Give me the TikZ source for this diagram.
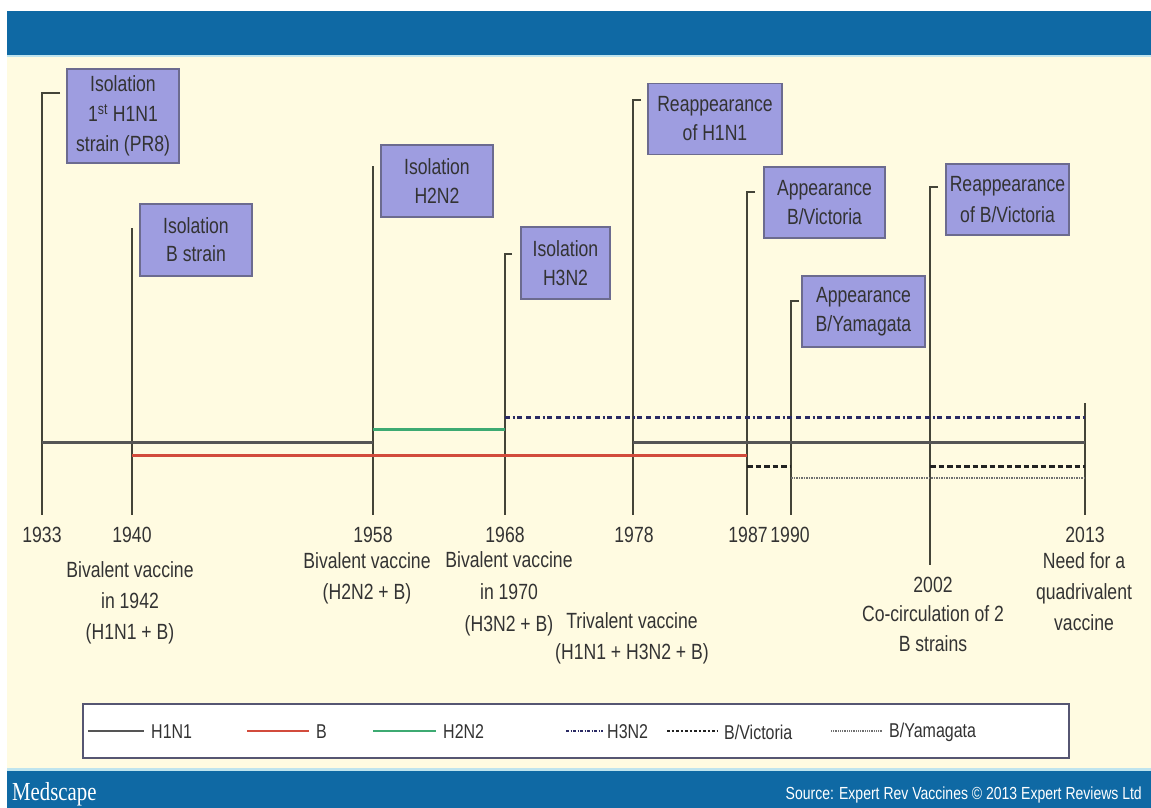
\documentclass[tikz,border=0pt]{standalone}
\usepackage{fontspec}
\setmainfont{Liberation Sans}[FakeStretch=0.8]
\newfontfamily\medfont{Liberation Serif}[FakeStretch=0.8]
\definecolor{bandblue}{HTML}{0F69A4}
\definecolor{cyanline}{HTML}{BFE4EE}
\definecolor{cream}{HTML}{FFFBE1}
\definecolor{boxfill}{HTML}{9E9DE0}
\definecolor{boxline}{HTML}{6C6B8F}
\definecolor{txt}{HTML}{333333}
\definecolor{vcol}{HTML}{444438}
\definecolor{h1col}{HTML}{555555}
\definecolor{bcol}{HTML}{D24B3C}
\definecolor{h2col}{HTML}{3DAA72}
\definecolor{h3col}{HTML}{2B2B64}
\definecolor{vicol}{HTML}{222222}
\definecolor{yamcol}{HTML}{707070}
\begin{document}
\begin{tikzpicture}[x=1pt,y=-1pt,
  evbox/.style={draw=boxline, line width=1.6pt, fill=boxfill, text=txt, align=center,
    font=\fontsize{22}{29}\selectfont, inner sep=0pt},
  lbl/.style={text=txt, align=center, inner sep=0pt, font=\fontsize{22}{31}\selectfont},
  lgtxt/.style={text=txt, anchor=west, inner sep=0pt, font=\fontsize{20}{22}\selectfont},
  vline/.style={draw=vcol, line width=1.4pt},
  h1line/.style={draw=h1col, line width=3pt},
  bline/.style={draw=bcol, line width=3pt},
  h2line/.style={draw=h2col, line width=3pt},
  h3line/.style={draw=h3col, line width=2.5pt, dash pattern=on 5pt off 2.5pt on 2pt off 2.5pt on 5pt off 4pt on 5pt off 4pt},
  viline/.style={draw=vicol, line width=2.6pt, dash pattern=on 5.5pt off 3pt},
  yamline/.style={draw=yamcol, line width=2.3pt, dash pattern=on 1.5pt off 1pt},
]
\useasboundingbox (0,0) rectangle (1151,808);
\fill[white] (0,0) rectangle (1151,808);
% backgrounds
\fill[cream] (7,57) rectangle (1151,769);
\fill[bandblue] (7,11) rectangle (1151,55);
\fill[cyanline] (7,55) rectangle (1151,57.5);
\fill[cyanline] (7,768) rectangle (1151,771);
\fill[bandblue] (7,771) rectangle (1151,808);
\node[anchor=west, text=white, inner sep=0pt, font=\medfont\fontsize{26}{27}\selectfont] (med) at (12,794) {Medscape};
\node[anchor=east, text=white, inner sep=0pt, font=\fontsize{17.5}{19}\selectfont] (src) at (1142,795) {Source: Expert Rev Vaccines \textcopyright{} 2013 Expert Reviews Ltd};

% vertical event lines
\foreach \n/\x/\t/\k/\b in {a/42/93/18/515, b/132/228/0/515, c/373/166/0/515, d/505/254/7/515, e/633/100/8/515, f/747/192/8/515, g/791/301/8/515, h/930/187/8/565, i/1085/403/0/515}{
  \coordinate (top\n) at (\x,\t);
  \coordinate (bot\n) at (\x,\b);
  \coordinate (tk\n) at (\x+\k,\t);
  \draw[vline] (tk\n) -- (top\n) -- (bot\n);
}

% event boxes
\node[evbox, minimum width=112pt, minimum height=94pt, font=\fontsize{22}{30}\selectfont] (e1) at (123,116) {Isolation\\1\textsuperscript{st} H1N1\\strain (PR8)};
\node[evbox, minimum width=112pt, minimum height=72pt, font=\fontsize{22}{28}\selectfont] (e2) at (196,240) {Isolation\\B strain};
\node[evbox, minimum width=112pt, minimum height=72pt] (e3) at (437,181) {Isolation\\H2N2};
\node[evbox, minimum width=89pt, minimum height=72pt] (e4) at (565.5,263) {Isolation\\H3N2};
\node[evbox, minimum width=134pt, minimum height=71pt] (e5) at (715,119) {Reappearance\\of H1N1};
\node[evbox, minimum width=121pt, minimum height=71pt] (e6) at (824.5,202.5) {Appearance\\B/Victoria};
\node[evbox, minimum width=123pt, minimum height=71pt] (e7) at (863.5,311.5) {Appearance\\B/Yamagata};
\node[evbox, minimum width=123pt, minimum height=71pt, font=\fontsize{22}{31}\selectfont] (e8) at (1007.5,199.5) {Reappearance\\of B/Victoria};

% strain lines
\coordinate (h1a) at (42,442.7);  \coordinate (h1b) at (373,442.7);
\coordinate (h1c) at (633,442.7); \coordinate (h1d) at (1085,442.7);
\coordinate (ba) at (132,455);    \coordinate (bb) at (747,455);
\coordinate (h2a) at (373,429);   \coordinate (h2b) at (505,429);
\coordinate (h3a) at (505,417.7); \coordinate (h3b) at (1085,417.7);
\coordinate (via) at (747,466.7); \coordinate (vib) at (791,466.7);
\coordinate (vic) at (930,466.7); \coordinate (vid) at (1085,466.7);
\coordinate (ya) at (791,477.7);  \coordinate (yb) at (1085,477.7);
\draw[h1line] (h1a) -- (h1b);
\draw[h1line] (h1c) -- (h1d);
\draw[bline] (ba) -- (bb);
\draw[h2line] (h2a) -- (h2b);
\draw[h3line] (h3a) -- (h3b);
\draw[viline] (via) -- (vib);
\draw[viline] (vic) -- (vid);
\draw[yamline] (ya) -- (yb);

% year labels
\node[lbl] (y1933) at (42,535) {1933};
\node[lbl] (y1940) at (132,535) {1940};
\node[lbl] (y1958) at (373,535) {1958};
\node[lbl] (y1968) at (505,535) {1968};
\node[lbl] (y1978) at (634,535) {1978};
\node[lbl] (y1987) at (748,535) {1987};
\node[lbl] (y1990) at (790,535) {1990};
\node[lbl] (y2013) at (1085,535) {2013};

% descriptions
\node[lbl, font=\fontsize{22}{31}\selectfont] (d1942) at (130,603) {Bivalent vaccine\\in 1942\\(H1N1 + B)};
\node[lbl] (d1958) at (367,578) {Bivalent vaccine\\(H2N2 + B)};
\node[lbl, font=\fontsize{22}{32}\selectfont] (d1968) at (509,594) {Bivalent vaccine\\in 1970\\(H3N2 + B)};
\node[lbl] (dtri) at (632,638.5) {Trivalent vaccine\\(H1N1 + H3N2 + B)};
\node[lbl, font=\fontsize{22}{29.5}\selectfont] (d2002) at (933,614) {2002\\Co-circulation of 2\\B strains};
\node[lbl] (d2013) at (1084,592) {Need for a\\quadrivalent\\vaccine};

% legend
\node[draw=boxline!80!black, line width=1.4pt, fill=white, minimum width=986pt, minimum height=54pt, inner sep=0pt] (legend) at (576,731) {};
\node[lgtxt] (lg1) at (151,732) {H1N1};
\node[lgtxt] (lg2) at (316,732) {B};
\node[lgtxt] (lg3) at (443,732) {H2N2};
\node[lgtxt] (lg4) at (607,732) {H3N2};
\node[lgtxt] (lg5) at (724,732) {B/Victoria};
\node[lgtxt] (lg6) at (889,732) {B/Yamagata};
\coordinate (l1) at (88,731);  \coordinate (l1e) at (144,731);
\coordinate (l2) at (247,731); \coordinate (l2e) at (309,731);
\coordinate (l3) at (373,731); \coordinate (l3e) at (436,731);
\coordinate (l4) at (566,731); \coordinate (l4e) at (603,731);
\coordinate (l5) at (667,731); \coordinate (l5e) at (718,731);
\coordinate (l6) at (831,731); \coordinate (l6e) at (883,731);
\draw[draw=h1col, line width=2pt] (l1) -- (l1e);
\draw[draw=bcol, line width=2pt] (l2) -- (l2e);
\draw[draw=h2col, line width=2pt] (l3) -- (l3e);
\draw[draw=h3col, line width=1.8pt, dash pattern=on 3pt off 1.5pt on 1pt off 1.5pt] (l4) -- (l4e);
\draw[draw=vicol, line width=1.8pt, dash pattern=on 2.5pt off 2pt] (l5) -- (l5e);
\draw[draw=yamcol, line width=1.8pt, dash pattern=on 1pt off 0.8pt] (l6) -- (l6e);
\end{tikzpicture}
\end{document}
